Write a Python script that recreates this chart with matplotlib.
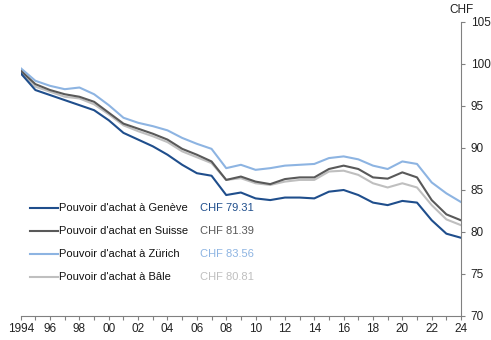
import matplotlib.pyplot as plt
from matplotlib.ticker import MultipleLocator, FixedLocator

plt.rcParams['font.family'] = ['Liberation Sans', 'DejaVu Sans']

# --- Données --- #
annees = list(range(1994, 2025))

geneve = [98.9, 96.9, 96.3, 95.7, 95.1, 94.5, 93.3, 91.8, 91.0, 90.2,
          89.2, 88.0, 87.0, 86.7, 84.4, 84.7, 84.0, 83.8, 84.1, 84.1,
          84.0, 84.8, 85.0, 84.4, 83.5, 83.2, 83.7, 83.5, 81.4, 79.8, 79.31]
suisse = [99.2, 97.6, 96.9, 96.4, 96.1, 95.5, 94.2, 92.9, 92.3, 91.7,
          91.0, 89.9, 89.2, 88.4, 86.2, 86.6, 86.0, 85.7, 86.3, 86.5,
          86.5, 87.5, 87.9, 87.5, 86.5, 86.35, 87.1, 86.5, 83.8, 82.1, 81.39]
zurich = [99.5, 98.0, 97.4, 97.0, 97.2, 96.4, 95.1, 93.6, 93.0, 92.6,
          92.1, 91.2, 90.5, 89.9, 87.6, 88.0, 87.4, 87.6, 87.9, 88.0,
          88.1, 88.8, 89.0, 88.65, 87.9, 87.5, 88.4, 88.1, 85.9, 84.6, 83.56]
bale = [98.9, 97.3, 96.7, 96.1, 95.9, 95.2, 94.0, 92.7, 92.0, 91.4,
        90.7, 89.6, 88.9, 88.2, 86.2, 86.4, 85.8, 85.6, 86.0, 86.2,
        86.2, 87.2, 87.3, 86.8, 85.8, 85.3, 85.8, 85.3, 83.2, 81.5, 80.81]

noms = ["Pouvoir d'achat à Genève", "Pouvoir d'achat en Suisse",
        "Pouvoir d'achat à Zürich", "Pouvoir d'achat à Bâle"]
valeurs_finales = ["CHF 79.31", "CHF 81.39", "CHF 83.56", "CHF 80.81"]
couleurs = ['#1f4e8c', '#595959', '#8db4e2', '#bfbfbf']
series = [geneve, suisse, zurich, bale]

tick_labels = ['1994'] + ['%02d' % (a % 100) for a in range(1996, 2025, 2)]

# --- Figure --- #
fig = plt.figure(figsize=(4.91, 3.40), dpi=100)
ax = fig.add_axes([0.0422, 0.0706, 0.8968, 0.8647])

# Bâle au fond, Genève devant
for i in [3, 2, 1, 0]:
    ax.plot(annees, series[i], color=couleurs[i], linewidth=1.5,
            solid_joinstyle='round')

ax.set_xlim(1994, 2024)
ax.set_ylim(70, 105)

# --- Axes --- #
ax.spines['top'].set_visible(False)
ax.spines['left'].set_visible(False)
ax.spines['right'].set_color('#808080')
ax.spines['bottom'].set_color('#808080')
ax.yaxis.tick_right()
ax.yaxis.set_major_locator(MultipleLocator(5))
ax.xaxis.set_major_locator(FixedLocator(list(range(1994, 2025, 2))))
ax.xaxis.set_minor_locator(MultipleLocator(1))
ax.set_xticklabels(tick_labels)
ax.tick_params(axis='both', which='both', colors='#808080',
               labelcolor='#222222', labelsize=8.5, length=3, width=0.8)
ax.tick_params(axis='x', pad=2)
ax.tick_params(axis='y', pad=4)

ax.text(1.0, 1.02, 'CHF', transform=ax.transAxes, ha='center', va='bottom',
        fontsize=8.5, color='#222222')

# --- Légende manuelle --- #
lignes_y = [0.367, 0.289, 0.211, 0.133]
for i in range(4):
    y = lignes_y[i]
    ax.plot([0.021, 0.085], [y, y], transform=ax.transAxes,
            color=couleurs[i], linewidth=1.5)
    ax.text(0.087, y, noms[i], transform=ax.transAxes, ha='left',
            va='center', fontsize=8, color='#111111')
    ax.text(0.407, y, valeurs_finales[i], transform=ax.transAxes,
            ha='left', va='center', fontsize=8, color=couleurs[i])

fig.savefig('out.png', dpi=100)
